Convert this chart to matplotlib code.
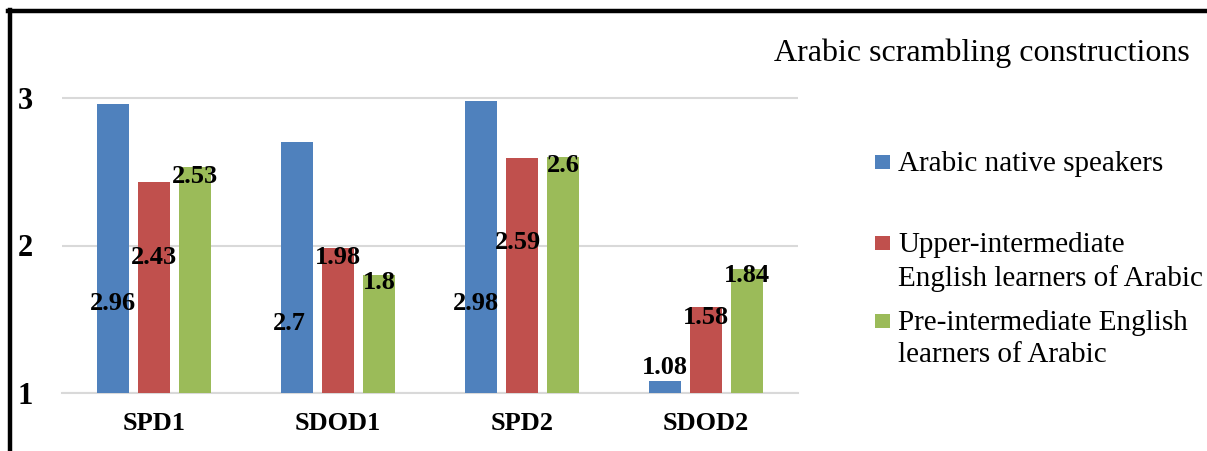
import matplotlib
matplotlib.use('Agg')
import matplotlib.pyplot as plt
import matplotlib.patches as patches
from matplotlib.lines import Line2D
import numpy as np

# data
categories = ['SPD1', 'SDOD1', 'SPD2', 'SDOD2']
series_names = ['Arabic native speakers',
                'Upper-intermediate\nEnglish learners of Arabic',
                'Pre-intermediate English\nlearners of Arabic']
native = [2.96, 2.7, 2.98, 1.08]
upper = [2.43, 1.98, 2.59, 1.58]
pre = [2.53, 1.8, 2.6, 1.84]
legend_title = 'Arabic scrambling constructions'

# where the value labels sit (they were moved by hand in the original)
label_y = [[1.61, 1.47, 1.61, 1.17],
           [1.92, 1.92, 2.02, 1.51],
           [2.47, 1.75, 2.54, 1.80]]
label_dx = [[0.0, -0.04, -0.03, 0.0],
            [0.0, 0.0, -0.02, 0.0],
            [0.0, 0.0, 0.0, 0.0]]

colors = ['#4F81BD', '#C0504D', '#9BBB59']
serif = ['Liberation Serif', 'DejaVu Serif']
plt.rcParams['font.family'] = serif

W, H = 1207, 451
fig = plt.figure(figsize=(W / 100, H / 100), dpi=100)

# axes placed in pixel terms
ymin, ymax = 1, 3.45
px_per_unit = 147.5
ax_left, ax_right = 62, 798
ax_bottom_px = 393
ax_top_px = ax_bottom_px - (ymax - ymin) * px_per_unit
ax = fig.add_axes([ax_left / W, (H - ax_bottom_px) / H,
                   (ax_right - ax_left) / W, (ax_bottom_px - ax_top_px) / H])

x = np.arange(len(categories))
width = 0.174
step = 0.223
all_series = [native, upper, pre]
for i, vals in enumerate(all_series):
    offs = (i - 1) * step
    ax.bar(x + offs, np.array(vals) - ymin, width, bottom=ymin,
           color=colors[i], zorder=3)
    for j, v in enumerate(vals):
        ax.text(x[j] + offs + label_dx[i][j], label_y[i][j], f'{v:g}',
                ha='center', va='center', fontsize=19, fontweight='bold',
                color='black', zorder=4)

ax.set_xlim(-0.5, len(categories) - 0.5)
ax.set_ylim(ymin, ymax)
ax.set_yticks([1, 2, 3])
ax.set_yticklabels(['1', '2', '3'], fontsize=22, fontweight='bold')
ax.set_xticks(x)
ax.set_xticklabels(categories, fontsize=19, fontweight='bold')
ax.tick_params(axis='y', length=0, pad=21)
ax.tick_params(axis='x', length=0, pad=14)
ax.grid(axis='y', color='#d9d9d9', linewidth=1.5, zorder=0)
for s in ['top', 'right', 'left']:
    ax.spines[s].set_visible(False)
ax.spines['bottom'].set_color('#d9d9d9')
ax.spines['bottom'].set_linewidth(1.5)

# thick frame on top and left
fig.add_artist(Line2D([8 / W, 1], [1 - 11 / H, 1 - 11 / H],
                      transform=fig.transFigure, color='black', linewidth=3.2))
fig.add_artist(Line2D([10 / W, 10 / W], [0, 1 - 9.5 / H],
                      transform=fig.transFigure, color='black', linewidth=3.2))

# legend drawn by hand
fig.text(982 / W, 1 - 53 / H, legend_title, ha='center', va='center',
         fontsize=23)
leg_y = [162, 243, 321]
for i, name in enumerate(series_names):
    yc = leg_y[i]
    fig.add_artist(patches.Rectangle((875 / W, 1 - (yc + 7) / H), 15 / W, 14 / H,
                                     transform=fig.transFigure,
                                     facecolor=colors[i], edgecolor='none'))
    fig.text(898 / W, 1 - (yc - 11) / H, name, ha='left', va='top',
             fontsize=21, linespacing=1.32)

fig.savefig('out.png', dpi=100)
